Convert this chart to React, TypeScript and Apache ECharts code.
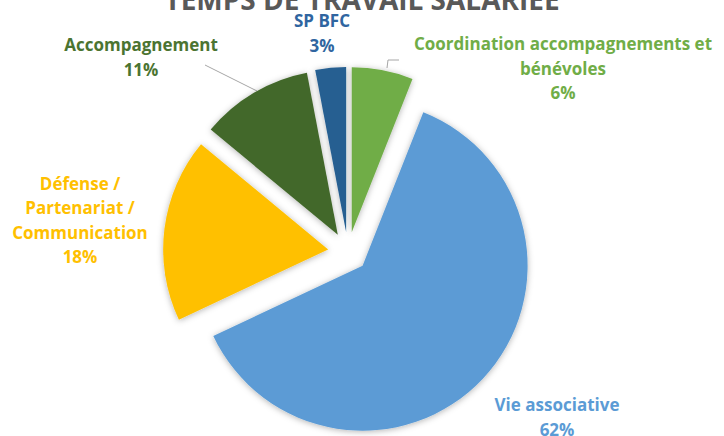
import React, { useEffect, useRef } from "react";
import * as echarts from "echarts";

const title = "TEMPS DE TRAVAIL SALARIÉE";
const categories = [
  "Coordination accompagnements et\nbénévoles",
  "Vie associative",
  "Défense /\nPartenariat /\nCommunication",
  "Accompagnement",
  "SP BFC",
];
const values = [6, 62, 18, 11, 3];
const sliceColors = ["#70AD47", "#5B9BD5", "#FFC000", "#43682B", "#255E91"];
const labelColors = ["#70AD47", "#5B9BD5", "#FFC000", "#4B7431", "#2F65A0"];

export default function App() {
  const ref = useRef<HTMLDivElement>(null);
  useEffect(() => {
    if (!ref.current) return;
    const chart = echarts.init(ref.current, null, { renderer: "svg" });
    // label anchor (centre) positions, per data index
    const labelPos: [number, number][] = [
      [563, 68],
      [557, 417],
      [80, 220],
      [141, 57],
      [322, 33],
    ];
    const leaderLines: number[][][] = [
      [[387, 68], [388, 60], [399, 60]],
      [[257, 91], [205, 65]],
    ];
    const total = values.reduce((a, b) => a + b, 0);
    const labelGraphics: any[] = categories.map((name, i) => ({
      type: "text",
      x: labelPos[i][0],
      y: labelPos[i][1],
      silent: true,
      style: {
        text: `${name}\n${Math.round((values[i] / total) * 100)}%`,
        align: "center",
        verticalAlign: "middle",
        fontFamily: "Open Sans",
        fontWeight: "bold",
        fontSize: 17,
        lineHeight: 24.5,
        fill: labelColors[i],
      },
    }));
    const lineGraphics: any[] = leaderLines.map((pts) => ({
      type: "polyline",
      silent: true,
      shape: { points: pts },
      style: { stroke: "#A6A6A6", lineWidth: 1, fill: null },
    }));
    chart.setOption({
      animation: false,
      backgroundColor: "#ffffff",
      graphic: [
        {
          type: "text",
          left: "center",
          top: -15,
          style: {
            text: title,
            fontFamily: "Open Sans",
            fontWeight: "bold",
            fontSize: 28,
            fill: "#595959",
          },
        },
        ...lineGraphics,
        ...labelGraphics,
      ],
      series: [
        {
          type: "pie",
          center: [348, 252],
          radius: 165,
          startAngle: 90,
          clockwise: true,
          selectedMode: "multiple",
          selectedOffset: 20,
          emphasis: { disabled: true },
          itemStyle: {
            shadowBlur: 6,
            shadowColor: "rgba(0,0,0,0.3)",
            shadowOffsetX: 0,
            shadowOffsetY: 1,
          },
          label: { show: false },
          labelLine: { show: false },
          data: categories.map((name, i) => ({
            name,
            value: values[i],
            selected: true,
            itemStyle: { color: sliceColors[i] },
          })),
        },
      ],
    });
    return () => chart.dispose();
  }, []);
  return (
    <div
      ref={ref}
      style={{ position: "absolute", left: 0, top: 0, width: 724, height: 436 }}
    />
  );
}
